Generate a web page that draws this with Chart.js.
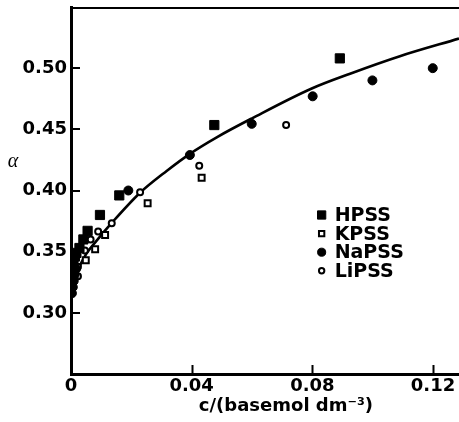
<!DOCTYPE html>
<html>
<head>
<meta charset="utf-8">
<script src="https://cdn.jsdelivr.net/npm/chart.js@4.4.1/dist/chart.umd.min.js"></script>
<style>
html,body{margin:0;padding:0;background:#fff;}
#wrap{width:459px;height:422px;}
</style>
</head>
<body>
<div id="wrap"><canvas id="alphaChart" width="459" height="422"></canvas></div>
<script>
/* ---------- values ---------- */
const xTicks = [0, 0.04, 0.08, 0.12];
const xTickLabels = ['0', '0.04', '0.08', '0.12'];
const yTicks = [0.30, 0.35, 0.40, 0.45, 0.50];
const yTickLabels = ['0.30', '0.35', '0.40', '0.45', '0.50'];

const hpssC = [0.0891, 0.0475, 0.016, 0.0096, 0.0055, 0.0041, 0.0028, 0.0018, 0.0013, 0.0008, 0.0004];
const hpssA = [0.508, 0.4535, 0.396, 0.380, 0.367, 0.360, 0.353, 0.349, 0.346, 0.342, 0.337];

const kpssC = [0.0433, 0.0254, 0.0113, 0.008, 0.0049];
const kpssA = [0.4104, 0.3896, 0.3637, 0.352, 0.343];

const napssC = [0.1199, 0.0999, 0.0801, 0.0599, 0.0394, 0.019, 0.0017, 0.0012, 0.0009, 0.0006, 0.0003];
const napssA = [0.500, 0.490, 0.477, 0.4545, 0.429, 0.400, 0.336, 0.331, 0.326, 0.321, 0.316];

const lipssC = [0.0713, 0.0425, 0.0229, 0.0135, 0.009, 0.0065, 0.0046, 0.0023, 0.0023];
const lipssA = [0.4535, 0.4202, 0.3985, 0.3732, 0.3664, 0.360, 0.351, 0.3376, 0.330];

// smooth curve, traced by eye
const curveC = [0, 0.001, 0.0025, 0.005, 0.0085, 0.0135, 0.0229, 0.0317, 0.0394, 0.0483, 0.06, 0.0798, 0.0925, 0.109, 0.1286];
const curveA = [0.312, 0.325, 0.336, 0.348, 0.359, 0.3735, 0.3982, 0.416, 0.430, 0.4435, 0.459, 0.4834, 0.4955, 0.5098, 0.5242];

const xTitle = 'c/(basemol dm\u207B\u00B3)';
const yTitle = '\u03B1';

/* ---------- helpers ---------- */
const zip = (xs, ys) => xs.map((v, i) => ({x: v, y: ys[i]}));

const series = [
  {label:'HPSS',  data:zip(hpssC, hpssA),   pointStyle:'rect',   radius:6.5, fill:'#000', border:1},
  {label:'KPSS',  data:zip(kpssC, kpssA),   pointStyle:'rect',   radius:4.2, fill:'#fff', border:2},
  {label:'NaPSS', data:zip(napssC, napssA), pointStyle:'circle', radius:4.5, fill:'#000', border:1},
  {label:'LiPSS', data:zip(lipssC, lipssA), pointStyle:'circle', radius:3,   fill:'#fff', border:2}
];

/* ---------- decorations: frame, inward ticks, titles, legend ---------- */
const decor = {
  id:'decor',
  afterDatasetsDraw(chart){
    const {ctx, chartArea:a, scales:{x, y}} = chart;
    ctx.save();
    ctx.strokeStyle = '#000';
    ctx.lineWidth = 2;
    ctx.beginPath();
    ctx.moveTo(a.left, a.top + 1); ctx.lineTo(a.right, a.top + 1);
    x.ticks.forEach(t => {
      if (t.value === 0) return;
      const px = Math.round(x.getPixelForValue(t.value)) + 0.5;
      ctx.moveTo(px, a.bottom); ctx.lineTo(px, a.bottom - 9);
    });
    y.ticks.forEach(t => {
      const py = Math.round(y.getPixelForValue(t.value));
      ctx.moveTo(a.left, py); ctx.lineTo(a.left + 9, py);
    });
    ctx.stroke();

    ctx.fillStyle = '#000';
    ctx.textBaseline = 'middle';
    ctx.textAlign = 'center';
    ctx.font = 'bold 18px "DejaVu Sans"';
    ctx.fillText(xTitle, a.left + (a.right - a.left) * 0.554, 406);
    ctx.font = 'italic 20px "Liberation Serif"';
    ctx.fillText(yTitle, 13, 162);

    // legend
    const lx = a.left + (a.right - a.left) * 0.646, ly = 215, row = 18.6;
    ctx.textAlign = 'left';
    ctx.font = 'bold 19px "DejaVu Sans"';
    series.forEach((s, i) => {
      const cy = ly + i * row;
      ctx.fillStyle = s.fill;
      ctx.strokeStyle = '#000';
      ctx.lineWidth = s.border;
      Chart.helpers.drawPoint(ctx, {pointStyle:s.pointStyle, radius:s.radius * 0.9, borderWidth:s.border, rotation:0}, lx, cy);
      ctx.fillStyle = '#000';
      ctx.fillText(s.label, lx + 13, cy + 1);
    });
    ctx.restore();
  }
};

/* ---------- chart ---------- */
Chart.defaults.font.family = '"DejaVu Sans"';
Chart.defaults.font.weight = 'bold';
Chart.defaults.font.size = 18;
Chart.defaults.color = '#000';

const datasets = series.map((s, i) => ({
  type:'scatter',
  label:s.label,
  data:s.data,
  pointStyle:s.pointStyle,
  pointRadius:s.radius,
  pointBackgroundColor:s.fill,
  pointBorderColor:'#000',
  pointBorderWidth:s.border,
  order:i
}));
datasets.push({
  type:'line',
  label:'fit',
  data:zip(curveC, curveA),
  borderColor:'#000',
  borderWidth:2.6,
  pointRadius:0,
  cubicInterpolationMode:'monotone',
  fill:false,
  order:10
});

new Chart(document.getElementById('alphaChart').getContext('2d'), {
  data:{datasets},
  options:{
    responsive:false,
    animation:false,
    layout:{autoPadding:false, padding:{top:7, right:0, left:0, bottom:0}},
    plugins:{legend:{display:false}, tooltip:{enabled:false}},
    scales:{
      x:{
        type:'linear', min:0, max:0.1286,
        afterBuildTicks:s => { s.ticks = xTicks.map(v => ({value:v})); },
        afterFit:s => { s.height = 48; s.paddingRight = 0; s.paddingLeft = 0; },
        grid:{display:false, drawTicks:false},
        border:{display:true, color:'#000', width:3},
        ticks:{padding:2, maxRotation:0, autoSkip:false, callback:(v, i) => xTickLabels[i]}
      },
      y:{
        type:'linear', min:0.25, max:0.55,
        afterBuildTicks:s => { s.ticks = yTicks.map(v => ({value:v})); },
        afterFit:s => { s.width = 71; s.paddingTop = 0; s.paddingBottom = 0; },
        grid:{display:false, drawTicks:false},
        border:{display:true, color:'#000', width:3},
        ticks:{padding:4, autoSkip:false, callback:(v, i) => yTickLabels[i]}
      }
    }
  },
  plugins:[decor]
});
</script>
</body>
</html>
